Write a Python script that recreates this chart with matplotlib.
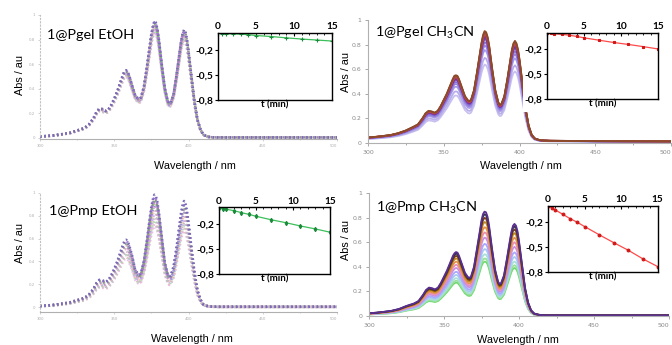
import numpy as np
import matplotlib
matplotlib.use('Agg')
import matplotlib.pyplot as plt
from matplotlib.patches import Rectangle
from matplotlib.ticker import MultipleLocator

plt.rcParams['mathtext.fontset'] = 'custom'
plt.rcParams['mathtext.rm'] = 'Lato'
plt.rcParams['mathtext.it'] = 'Lato:italic'
plt.rcParams['mathtext.bf'] = 'Lato:bold'

# ---------------- data ----------------
wavelength = [300, 305, 310, 315, 320, 325, 330, 333, 336, 338, 340, 342, 344, 346, 348, 350,
              352, 354, 356, 357, 358, 359, 360, 362, 364, 366, 367, 368, 370, 372, 374, 375,
              376, 377, 378, 379, 380, 382, 384, 386, 387, 388, 390, 392, 394, 395, 396, 397,
              398, 399, 400, 402, 404, 406, 408, 410, 413, 416, 420, 430, 450, 475, 500]

abs_pgel_etoh = [0.010, 0.015, 0.020, 0.030, 0.040, 0.060, 0.080, 0.110, 0.160, 0.210, 0.240, 0.235,
                 0.220, 0.230, 0.270, 0.320, 0.380, 0.450, 0.520, 0.545, 0.550, 0.540, 0.510, 0.430,
                 0.350, 0.320, 0.315, 0.330, 0.420, 0.580, 0.760, 0.850, 0.910, 0.950, 0.940, 0.890,
                 0.810, 0.600, 0.410, 0.300, 0.280, 0.285, 0.360, 0.520, 0.700, 0.790, 0.850, 0.880,
                 0.860, 0.800, 0.710, 0.500, 0.300, 0.150, 0.070, 0.025, 0.008, 0.004, 0.003, 0.003,
                 0.003, 0.003, 0.003]

abs_pmp_etoh = [0.010, 0.015, 0.021, 0.031, 0.042, 0.062, 0.082, 0.112, 0.162, 0.212, 0.240, 0.236,
                0.222, 0.236, 0.282, 0.337, 0.402, 0.477, 0.555, 0.582, 0.590, 0.580, 0.545, 0.455,
                0.335, 0.290, 0.285, 0.300, 0.410, 0.590, 0.790, 0.880, 0.945, 0.985, 0.975, 0.925,
                0.840, 0.620, 0.400, 0.290, 0.270, 0.276, 0.360, 0.530, 0.730, 0.830, 0.895, 0.930,
                0.905, 0.840, 0.745, 0.520, 0.310, 0.150, 0.068, 0.024, 0.008, 0.004, 0.003, 0.003,
                0.003, 0.003, 0.003]

abs_pgel_ch3cn = [0.043, 0.048, 0.055, 0.063, 0.078, 0.100, 0.130, 0.150, 0.200, 0.240, 0.260, 0.255,
                  0.245, 0.260, 0.300, 0.350, 0.400, 0.460, 0.520, 0.545, 0.550, 0.545, 0.520, 0.450,
                  0.380, 0.345, 0.340, 0.350, 0.430, 0.580, 0.740, 0.820, 0.880, 0.910, 0.900, 0.860,
                  0.790, 0.600, 0.430, 0.330, 0.310, 0.315, 0.380, 0.520, 0.680, 0.760, 0.810, 0.830,
                  0.810, 0.760, 0.680, 0.480, 0.280, 0.140, 0.065, 0.035, 0.022, 0.018, 0.016, 0.015,
                  0.013, 0.012, 0.011]

abs_pmp_ch3cn = [0.020, 0.025, 0.032, 0.040, 0.055, 0.080, 0.100, 0.120, 0.170, 0.210, 0.230, 0.225,
                 0.215, 0.230, 0.270, 0.320, 0.370, 0.430, 0.490, 0.510, 0.520, 0.515, 0.490, 0.420,
                 0.350, 0.315, 0.310, 0.320, 0.400, 0.550, 0.700, 0.780, 0.830, 0.850, 0.845, 0.810,
                 0.740, 0.550, 0.380, 0.280, 0.260, 0.265, 0.330, 0.470, 0.620, 0.690, 0.735, 0.750,
                 0.735, 0.690, 0.610, 0.420, 0.230, 0.110, 0.045, 0.018, 0.008, 0.004, 0.003, 0.003,
                 0.003, 0.003, 0.003]

# relative intensity of successive spectra (read from the peak at 377 nm)
scale_pgel_etoh = [1.0, 0.99, 0.985, 0.98, 0.97, 0.96, 0.95, 0.94, 0.93, 0.92, 0.91, 0.90]
scale_pmp_etoh = [1.0, 0.98, 0.96, 0.94, 0.92, 0.89, 0.86, 0.83, 0.80, 0.77, 0.74, 0.72]
scale_pgel_ch3cn = [1.0, 0.99, 0.98, 0.97, 0.96, 0.945, 0.93, 0.90, 0.87, 0.83, 0.76, 0.70]
scale_pmp_ch3cn = [1.0, 0.975, 0.94, 0.90, 0.85, 0.80, 0.75, 0.69, 0.64, 0.59, 0.55, 0.52]

# kinetics insets
t_min = [0, 0.5, 1, 2, 3, 4, 5, 7, 9, 11, 13, 15]
ln_pgel_etoh = [-0.004, -0.006, -0.008, -0.010, -0.014, -0.020, -0.030, -0.042, -0.058, -0.072, -0.084, -0.096]
ln_pgel_ch3cn = [-0.004, -0.008, -0.012, -0.020, -0.030, -0.045, -0.062, -0.090, -0.118, -0.142, -0.168, -0.196]
ln_pmp_etoh = [-0.012, -0.018, -0.024, -0.040, -0.064, -0.084, -0.108, -0.149, -0.185, -0.225, -0.260, -0.300]
ln_pmp_ch3cn = [0.0, -0.020, -0.048, -0.100, -0.153, -0.198, -0.250, -0.350, -0.447, -0.540, -0.645, -0.738]

titles = ['1@Pgel EtOH', r'1@Pgel CH$_3$CN', '1@Pmp EtOH', r'1@Pmp CH$_3$CN']
x_ticks = [300, 350, 400, 450, 500]
x_ticklabels = ['300', '350', '400', '450', '500']
y_ticks = [0, 0.2, 0.4, 0.6, 0.8, 1.0]
y_ticklabels = ['0', '0.2', '0.4', '0.6', '0.8', '1']
inset_yticks = [-0.2, -0.5, -0.8]
inset_yticklabels = ['-0,2', '-0,5', '-0,8']
inset_xticks = [0, 5, 10, 15]

# ---------------- styles ----------------
colors_pgel_ch3cn = ['#c8c0f0', '#b8aeea', '#a79ae6', '#9585e0', '#8a6fd6', '#7a4fb8',
                     '#7030a0', '#9a3080', '#b04060', '#c0504d', '#a0522d', '#8b4a2b']
colors_pmp_ch3cn = ['#70d870', '#98e098', '#a8e0d8', '#a8c8f0', '#a8a8ff', '#c890e0',
                    '#e890b8', '#e89050', '#c08a20', '#7b3f10', '#303048', '#5a2d90']
colors_dotted = ['#e0c0e8', '#f0b8d0', '#b0d8b0', '#c0c0c0', '#c8b0f0', '#f8c8b0',
                 '#a090d8', '#e0a0c8', '#80b880', '#909090', '#a078d0', '#7868b8']

W, H = 672.0, 345.0


def rect(x0, y0, x1, y1):
    return [x0 / W, 1 - y1 / H, (x1 - x0) / W, (y1 - y0) / H]


fig = plt.figure(figsize=(6.72, 3.45), dpi=100)

gray = '#9a9a9a'
lab_font = 'Liberation Sans'
title_font = 'Lato'


def main_axes(r, base, scales, colors, dotted, ylim):
    ax = fig.add_axes(r)
    wl = np.array(wavelength)
    b = np.array(base)
    for s, c in zip(scales[::-1], colors):
        if dotted:
            ax.plot(wl, b * s, color=c, lw=1.8, linestyle=(0, (0.6, 1.1)),
                    dash_capstyle='butt')
        else:
            ax.plot(wl, b * s, color=c, lw=1.3)
    ax.set_xlim(300, 500)
    ax.set_ylim(*ylim)
    ax.set_xticks(x_ticks)
    ax.set_xticklabels(x_ticklabels)
    ax.xaxis.set_minor_locator(MultipleLocator(25))
    ax.set_yticks(y_ticks)
    ax.set_yticklabels(y_ticklabels)
    ax.get_xticklabels()[-1].set_ha('right')
    for s in ['top', 'right']:
        ax.spines[s].set_visible(False)
    for s in ['left', 'bottom']:
        ax.spines[s].set_color('#b0b0b0')
        ax.spines[s].set_linewidth(0.8)
    if dotted:
        ax.spines['left'].set_linestyle((0, (1, 2)))
        ax.spines['left'].set_color('#c0c0c0')
        ax.tick_params(labelsize=2.8, labelcolor='#b0b0b0', color='#c0c0c0',
                       length=1.5, width=0.5, pad=2)
        ax.tick_params(which='minor', length=1, color='#c0c0c0', width=0.5)
    else:
        ax.tick_params(labelsize=4.5, labelcolor='#8a8a8a', color=gray,
                       length=2, width=0.6, pad=3)
        ax.tick_params(which='minor', length=1.5, color=gray, width=0.6)
    ax.patch.set_alpha(0)
    return ax


def inset_axes(r, t, vals, color, mcolor, marker, ms):
    ax = fig.add_axes(r, zorder=3)
    ax.set_facecolor('white')
    ax.plot(t, vals, color=color, lw=0.9, marker=marker, ms=ms, mec=mcolor,
            mfc=mcolor, mew=0.8)
    ax.set_xlim(0, 15)
    ax.set_ylim(-0.8, 0)
    ax.xaxis.tick_top()
    ax.set_xticks(inset_xticks)
    ax.xaxis.set_minor_locator(MultipleLocator(1))
    ax.set_yticks(inset_yticks)
    ax.set_yticklabels(inset_yticklabels)
    ax.tick_params(labelsize=7.3, length=2, width=0.8, pad=1.2)
    ax.tick_params(which='minor', length=1.2, width=0.6)
    ax.tick_params(axis='x', which='both', direction='in')
    for lbl in ax.get_xticklabels() + ax.get_yticklabels():
        lbl.set_fontweight('bold')
        lbl.set_fontfamily(title_font)
    ax.set_xlabel('t (min)', fontsize=7.0, fontweight='bold', family=title_font, labelpad=0.5)
    ax.xaxis.set_label_position('bottom')
    for s in ax.spines.values():
        s.set_linewidth(1.0)
        s.set_color('black')
    return ax


# panels
ax1 = main_axes(rect(40, 15, 337, 139), abs_pgel_etoh, scale_pgel_etoh, colors_dotted, True, (-0.01, 1.0))
ax2 = main_axes(rect(368, 20, 671, 142.7), abs_pgel_ch3cn, scale_pgel_ch3cn, colors_pgel_ch3cn, False, (0, 1.0))
ax3 = main_axes(rect(40, 193, 337, 311.7), abs_pmp_etoh, scale_pmp_etoh, colors_dotted, True, (-0.04, 1.0))
ax4 = main_axes(rect(369, 193.3, 669, 315.7), abs_pmp_ch3cn, scale_pmp_ch3cn, colors_pmp_ch3cn, False, (0, 1.0))

# white background behind right insets
fig.patches.append(Rectangle((523 / W, 1 - 112 / H), 149 / W, 92 / H, transform=fig.transFigure,
                             facecolor='white', edgecolor='none', zorder=2))
fig.patches.append(Rectangle((528 / W, 1 - 285 / H), 142 / W, 90 / H, transform=fig.transFigure,
                             facecolor='white', edgecolor='none', zorder=2))

inset_axes(rect(218, 33, 332, 100), t_min, ln_pgel_etoh, '#3cbf5a', '#1a8a3a', '+', 3)
inset_axes(rect(547, 32.7, 658, 99), t_min, ln_pgel_ch3cn, '#ff4a4a', '#d01818', 's', 2)
inset_axes(rect(219, 207.3, 330, 273.7), t_min, ln_pmp_etoh, '#3cbf5a', '#1a8a3a', 'd', 2.2)
inset_axes(rect(548, 206, 657.7, 271.7), t_min, ln_pmp_ch3cn, '#ff4a4a', '#d01818', 'o', 2)

# titles
for (x, y), txt in zip([(47, 39), (375, 37), (49, 215), (376, 212)], titles):
    fig.text(x / W, 1 - y / H, txt, fontsize=10.4, family=title_font, va='baseline', ha='left', zorder=5)

# axis labels
for (x, y) in [(195, 166), (521, 166), (192, 339), (518, 340)]:
    fig.text(x / W, 1 - y / H, 'Wavelength / nm', fontsize=7.8, family=lab_font,
             ha='center', va='center')
for (x, y) in [(20, 75), (346, 72), (20, 243), (346, 240)]:
    fig.text(x / W, 1 - y / H, 'Abs / au', fontsize=7.8, family=lab_font,
             ha='center', va='center', rotation=90)

fig.savefig('out.png', dpi=100)
